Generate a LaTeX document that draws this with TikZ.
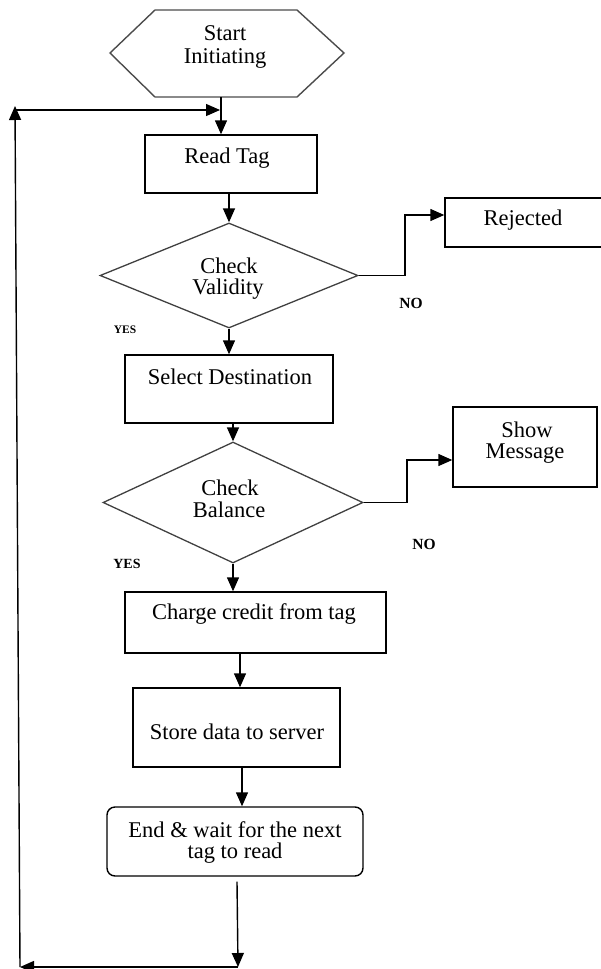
\documentclass[tikz,border=0pt]{standalone}
\usepackage{fontspec}
\setmainfont{Liberation Serif}
\usetikzlibrary{arrows.meta,shapes.geometric}

\tikzset{
  box/.style={draw=black, line width=1.4pt, rectangle, inner sep=0pt},
  roundbox/.style={box, rounded corners=8pt},
  decision/.style={draw=black!75, line width=1.3pt, diamond, inner sep=0pt},
  hexline/.style={draw=black!70, line width=1.4pt, line join=miter},
  arr/.style={draw=black, line width=1.4pt, -{Triangle[length=14pt,width=12pt]}},
  lbl/.style={anchor=base, inner sep=0pt, font=\fontsize{22.5}{24}\selectfont},
  yn/.style={anchor=base, inner sep=0pt},
}

\begin{document}
\begin{tikzpicture}[x=1pt, y=-1pt]
  \useasboundingbox (0,0) rectangle (600,969);

  % start terminator (hexagon)
  \draw[hexline] (110,53) -- (155,10) -- (297,10) -- (344,53) -- (297,97) -- (155,97) -- cycle;
  \node[inner sep=0pt, minimum width=142pt, minimum height=87pt] (start) at (226,53.5) {};
  \node[lbl] (tstart1) at (225,40) {Start};
  \node[lbl] (tstart2) at (225,63) {Initiating};

  % process boxes
  \node[box, minimum width=172pt, minimum height=58pt] (read)   at (231,164) {};
  \node[box, minimum width=208pt, minimum height=68pt] (select) at (229,389) {};
  \node[box, minimum width=167pt, minimum height=49pt] (rej)    at (528.5,222.5) {};
  \node[box, minimum width=144pt, minimum height=80pt] (show)   at (525,447) {};
  \node[box, minimum width=261pt, minimum height=61pt] (charge) at (255.5,622.5) {};
  \node[box, minimum width=207pt, minimum height=79pt] (store)  at (236.5,727.5) {};
  \node[roundbox, minimum width=256pt, minimum height=69pt] (endb) at (235,841.5) {};

  % decisions
  \node[decision, minimum width=258pt, minimum height=105pt] (valid) at (229,275.5) {};
  \node[decision, minimum width=260pt, minimum height=121pt] (bal)   at (233,502.5) {};

  % texts
  \node[lbl] (tread) at (227,163) {Read Tag};
  \node[lbl] (tval1) at (229,273) {Check};
  \node[lbl] (tval2) at (228,294) {Validity};
  \node[lbl] (tsel) at (230,384) {Select Destination};
  \node[lbl] (trej) at (523,225) {Rejected};
  \node[lbl] (tbal1) at (230,495) {Check};
  \node[lbl] (tbal2) at (229,517) {Balance};
  \node[lbl] (tshow1) at (527,437) {Show};
  \node[lbl] (tshow2) at (525,458) {Message};
  \node[lbl] (tcharge) at (254,619) {Charge credit from tag};
  \node[lbl] (tstore) at (237,739) {Store data to server};
  \node[lbl] (tend1) at (235,837) {End \& wait for the next};
  \node[lbl] (tend2) at (235,858) {tag to read};

  % branch labels
  \node[yn, font=\bfseries\fontsize{11.5}{13}\selectfont] (yes1) at (125,333) {YES};
  \node[yn, font=\bfseries\fontsize{15.5}{18}\selectfont] (no1)  at (411,308) {NO};
  \node[yn, font=\bfseries\fontsize{14}{16}\selectfont] (yes2) at (127,568) {YES};
  \node[yn, font=\bfseries\fontsize{15.5}{18}\selectfont] (no2)  at (424,549) {NO};

  % loop-back path coordinates
  \coordinate (bot)      at (238,967);
  \coordinate (botleft)  at (20,967);
  \coordinate (looptop)  at (15,106);
  \coordinate (loopbeg)  at (15,110);
  \coordinate (loopin)   at (220,110);
  \coordinate (maincol)  at (221,110);

  % main flow
  \draw[arr] (start.south -| maincol) -- (read.north -| maincol);
  \draw[arr] (read.south -| valid.north) -- (valid.north);
  \draw[arr] (valid.south) -- (valid.south |- select.north);
  \draw[arr] (select.south -| bal.north) -- (bal.north);
  \draw[arr] (bal.south) -- (bal.south |- charge.north);
  \draw[arr] (charge.south -| 240,0) -- (store.north -| 240,0);
  \draw[arr] (store.south -| 242,0) -- (endb.north -| 242,0);

  % NO branches
  \draw[arr] (valid.east) -| (405,215) -- (rej.west |- 0,215);
  \draw[arr] (bal.east) -| (407,460) -- (show.west |- 0,460);

  % return to reading the next tag
  \draw[arr] ([yshift=-5pt]endb.south -| 237,0) -- (bot);
  \draw[arr] (bot) -- (botleft);
  \draw[arr] (botleft) -- (looptop);
  \draw[arr] (loopbeg) -- (loopin);
\end{tikzpicture}
\end{document}
